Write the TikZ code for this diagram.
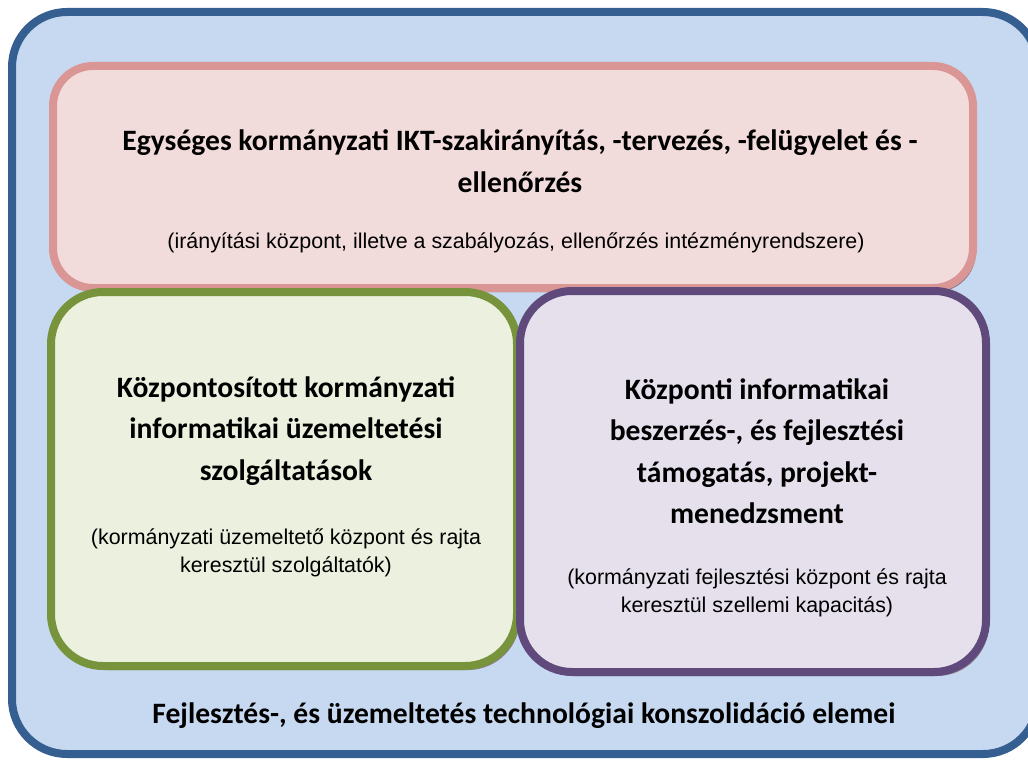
\documentclass[tikz,border=0pt]{standalone}
\usepackage{fontspec}
\usepackage{xcolor}
\usepackage{tikz}
\usetikzlibrary{shadows}
\newfontfamily\titlefont{Carlito}
\newfontfamily\notefont{Liberation Sans}
\definecolor{outerfill}{HTML}{C6D9F1}
\definecolor{outerline}{HTML}{355E91}
\definecolor{pinkfill}{HTML}{F2DCDB}
\definecolor{pinkline}{HTML}{D99694}
\definecolor{greenfill}{HTML}{EBF1DE}
\definecolor{greenline}{HTML}{77933C}
\definecolor{purplefill}{HTML}{E5E0EC}
\definecolor{purpleline}{HTML}{604A7B}
\definecolor{shadowgray}{HTML}{8E7B8C}

\begin{document}
\begin{tikzpicture}[x=1pt, y=-1pt,
  box/.style={draw, line width=8pt, rounded corners=#1, inner sep=0pt, outer sep=0pt},
  shade box/.style={drop shadow={shadow xshift=3pt, shadow yshift=-4pt, fill=shadowgray, opacity=1}},
  title/.style={font=\titlefont\bfseries\fontsize{29.6}{41.5}\selectfont, align=center, inner sep=0pt},
  note/.style={font=\notefont\fontsize{21.4}{28}\selectfont, align=center, inner sep=0pt}]
  \useasboundingbox (0,0) rectangle (1028,760);
  % frame and the three blocks
  \node[overlay, box=55pt, draw=outerline, fill=outerfill, minimum width=1026pt, minimum height=742pt] (frame) at (525,383) {};
  \node[box=40pt, shade box, draw=pinkline, fill=pinkfill, minimum width=920pt, minimum height=222pt] (pink) at (513,177) {};
  \node[box=52pt, shade box, draw=greenline, fill=greenfill, minimum width=466pt, minimum height=374pt] (green) at (284,479) {};
  \node[box=52pt, shade box, draw=purpleline, fill=purplefill, minimum width=466pt, minimum height=381pt] (purple) at (753,481.5) {};
  % texts
  \node[title] (pinktitle) at (520,161) {Egységes kormányzati IKT-szakirányítás, -tervezés, -felügyelet és -\\ellenőrzés};
  \node[note] (pinknote) at (516,243) {(irányítási központ, illetve a szabályozás, ellenőrzés intézményrendszere)};
  \node[title] (greentitle) at (286,431) {Központosított kormányzati\\informatikai üzemeltetési\\szolgáltatások};
  \node[note] (greennote) at (286,553) {(kormányzati üzemeltető központ és rajta\\keresztül szolgáltatók)};
  \node[title] (purpletitle) at (757,451) {Központi informatikai\\beszerzés-, és fejlesztési\\támogatás, projekt-\\menedzsment};
  \node[note] (purplenote) at (757,593) {(kormányzati fejlesztési központ és rajta\\keresztül szellemi kapacitás)};
  \node[title] (frametitle) at (524,716) {Fejlesztés-, és üzemeltetés technológiai konszolidáció elemei};
\end{tikzpicture}
\end{document}
